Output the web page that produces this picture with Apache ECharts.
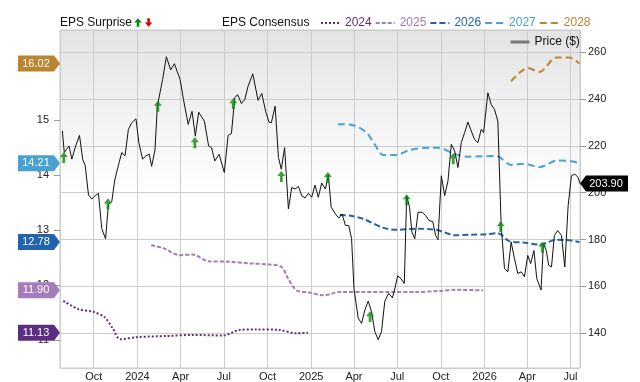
<!DOCTYPE html>
<html>
<head>
<meta charset="utf-8">
<script src="https://cdn.jsdelivr.net/npm/echarts@6/dist/echarts.min.js"></script>
<style>
  html, body { margin: 0; padding: 0; background: #fff; }
  #chart { width: 640px; height: 382px; }
</style>
</head>
<body>
<div id="chart"></div>
<script>
const FONT = 'Liberation Sans, Arial, sans-serif'

const monthLabels = ['Jan', 'Feb', 'Mar', 'Apr', 'May', 'Jun', 'Jul', 'Aug', 'Sep', 'Oct', 'Nov', 'Dec']
const xMin = '2023-07-22'
const xMax = '2026-07-21'

// share price ($)
const priceDates = [
  '2023-07-27','2023-07-31','2023-08-05','2023-08-10','2023-08-16','2023-08-24','2023-09-01','2023-09-08','2023-09-13','2023-09-20',
  '2023-09-27','2023-10-04','2023-10-11','2023-10-18','2023-10-26','2023-11-01','2023-11-08','2023-11-14','2023-11-22','2023-11-29',
  '2023-12-06','2023-12-13','2023-12-20','2023-12-29','2024-01-04','2024-01-12','2024-01-19','2024-01-26','2024-01-31','2024-02-07',
  '2024-02-12','2024-02-23','2024-03-02','2024-03-11','2024-03-19','2024-03-31','2024-04-07','2024-04-17','2024-04-25','2024-05-02',
  '2024-05-09','2024-05-21','2024-05-30','2024-06-05','2024-06-12','2024-06-21','2024-07-02','2024-07-10','2024-07-17','2024-07-24',
  '2024-07-30','2024-08-07','2024-08-14','2024-08-21','2024-08-31','2024-09-11','2024-09-19','2024-09-27','2024-10-04','2024-10-09',
  '2024-10-17','2024-10-24','2024-10-30','2024-11-06','2024-11-14','2024-11-21','2024-11-28','2024-12-05','2024-12-12','2024-12-19',
  '2024-12-26','2025-01-02','2025-01-09','2025-01-16','2025-01-23','2025-01-31','2025-02-06','2025-02-12','2025-02-21','2025-02-28',
  '2025-03-07','2025-03-14','2025-03-21','2025-03-27','2025-04-01','2025-04-10','2025-04-17','2025-04-24','2025-05-01','2025-05-08',
  '2025-05-15','2025-05-22','2025-05-29','2025-06-05','2025-06-13','2025-06-21','2025-06-27','2025-07-02','2025-07-09','2025-07-16',
  '2025-07-21','2025-07-27','2025-08-01','2025-08-07','2025-08-14','2025-08-23','2025-08-30','2025-09-06','2025-09-14','2025-09-20',
  '2025-09-25','2025-10-02','2025-10-09','2025-10-16','2025-10-23','2025-10-30','2025-11-06','2025-11-13','2025-11-20','2025-11-27',
  '2025-12-04','2025-12-11','2025-12-18','2025-12-25','2025-12-30','2026-01-08','2026-01-15','2026-01-22','2026-01-29','2026-02-05',
  '2026-02-12','2026-02-19','2026-02-26','2026-03-05','2026-03-12','2026-03-19','2026-03-26','2026-04-02','2026-04-08','2026-04-15',
  '2026-04-21','2026-04-30','2026-05-05','2026-05-11','2026-05-16','2026-05-22','2026-05-28','2026-06-04','2026-06-12','2026-06-19',
  '2026-06-26','2026-07-03','2026-07-10','2026-07-17','2026-07-21'
]
const priceValues = [
  226.3,217.1,218.5,219.9,214.3,219.9,224.4,214.0,211.7,199.0,
  197.3,198.7,199.7,184.6,180.3,195.2,196.1,205.0,211.7,217.1,
  215.7,227.0,229.8,231.5,221.3,214.3,215.7,216.4,211.2,218.2,
  236.9,248.2,258.0,252.4,255.0,248.2,239.7,229.1,234.7,224.1,
  234.3,230.5,219.9,219.2,213.5,216.4,208.6,224.4,225.2,240.5,
  241.8,238.0,239.7,245.4,250.7,239.4,242.3,234.7,230.1,229.8,
  236.9,215.0,210.0,219.2,193.0,202.2,201.5,202.7,198.7,197.7,
  199.7,198.0,203.2,198.0,204.1,201.5,207.7,193.8,190.9,189.1,
  190.9,186.0,186.0,180.3,159.1,146.4,144.2,149.9,153.7,149.2,
  140.7,137.2,140.7,153.7,157.0,155.1,159.8,164.5,163.3,161.2,
  198.7,193.8,183.2,180.3,191.6,191.6,190.2,188.1,187.6,181.7,
  179.9,207.2,198.7,205.0,220.6,217.8,210.7,221.3,225.6,230.1,
  226.3,222.7,221.3,227.0,225.6,242.6,237.6,235.5,230.5,186.0,
  167.6,166.2,178.9,171.8,165.5,166.2,164.1,173.2,169.7,175.3,
  163.3,158.4,178.2,175.3,169.0,168.3,181.7,183.8,181.7,168.3,
  194.4,207.2,207.9,206.5,203.9
]

// EPS surprise markers (all beats)
const surpriseDates = ['2023-07-30','2023-10-31','2024-02-13','2024-05-01','2024-07-21','2024-10-30','2025-02-05','2025-05-05','2025-07-21','2025-10-27','2026-02-04','2026-05-03']
const surpriseValues = [215.0,195.2,236.9,221.3,238.0,206.9,206.5,147.1,197.0,214.5,185.5,176.7]

// EPS consensus by fiscal year
const eps2024Dates = ['2023-07-29','2023-08-29','2023-09-30','2023-10-24','2023-11-10','2023-11-26','2023-12-30','2024-03-02','2024-04-27','2024-06-29','2024-08-03','2024-09-07','2024-10-26','2024-12-01','2024-12-25']
const eps2024 = [11.71,11.56,11.51,11.41,11.21,11.01,11.05,11.07,11.09,11.08,11.18,11.19,11.18,11.12,11.13]

const eps2025Dates = ['2024-01-30','2024-02-24','2024-03-30','2024-04-27','2024-05-29','2024-07-13','2024-08-24','2024-10-05','2024-10-30','2024-11-13','2024-12-01','2024-12-28','2025-01-27','2025-03-02','2025-04-20','2025-06-29','2025-08-10','2025-09-28','2025-11-02','2025-12-29']
const eps2025 = [12.72,12.67,12.54,12.55,12.43,12.42,12.39,12.37,12.33,12.12,11.90,11.86,11.81,11.87,11.87,11.87,11.87,11.89,11.91,11.90]

const eps2026Dates = ['2025-03-02','2025-03-23','2025-04-20','2025-06-01','2025-06-29','2025-08-10','2025-09-21','2025-10-09','2025-10-30','2025-12-01','2026-01-05','2026-01-29','2026-02-23','2026-03-23','2026-04-27','2026-06-01','2026-06-29','2026-07-20']
const eps2026 = [13.27,13.26,13.20,13.04,13.00,13.02,13.00,12.95,12.90,12.91,12.92,12.94,12.79,12.77,12.73,12.82,12.81,12.78]

const eps2027Dates = ['2025-02-26','2025-03-30','2025-04-27','2025-05-15','2025-06-01','2025-06-29','2025-07-27','2025-09-03','2025-09-28','2025-10-26','2025-11-26','2026-01-26','2026-02-26','2026-03-26','2026-04-27','2026-06-03','2026-06-29','2026-07-20']
const eps2027 = [14.92,14.90,14.77,14.55,14.36,14.36,14.45,14.49,14.49,14.39,14.33,14.34,14.18,14.20,14.14,14.26,14.25,14.21]

const eps2028Dates = ['2026-02-26','2026-04-02','2026-04-27','2026-06-01','2026-06-29','2026-07-20']
const eps2028 = [15.70,15.94,15.87,16.13,16.13,16.02]

const consensus = [
  { name: '2024', dates: eps2024Dates, values: eps2024, color: '#5c2d82', dash: [2, 2] },
  { name: '2025', dates: eps2025Dates, values: eps2025, color: '#a57cba', dash: [4, 2] },
  { name: '2026', dates: eps2026Dates, values: eps2026, color: '#2163ae', dash: [6, 3] },
  { name: '2027', dates: eps2027Dates, values: eps2027, color: '#47a2d2', dash: [7, 4] },
  { name: '2028', dates: eps2028Dates, values: eps2028, color: '#b98531', dash: [7, 4] },
]

const zip = (xs, ys) => xs.map((x, i) => [x, ys[i]])

const chart = echarts.init(document.getElementById('chart'))

const consensusSeries = consensus.map(c => ({
  name: c.name,
  type: 'line',
  yAxisIndex: 0,
  data: zip(c.dates, c.values),
  smooth: 0.3,
  symbol: 'none',
  lineStyle: { color: c.color, width: 2, type: c.dash },
  itemStyle: { color: c.color },
  z: 3,
  markPoint: {
    silent: true,
    symbol: 'path://M0,0 L36,0 L42,8 L36,16 L0,16 Z',
    symbolSize: [42, 16],
    symbolOffset: [-21, 0],
    itemStyle: { color: c.color },
    label: {
      show: true, position: 'inside', offset: [-3, 0],
      color: '#fff', fontSize: 11, fontFamily: FONT,
      formatter: p => p.value.toFixed(2),
    },
    data: [{ coord: [xMin, c.values[c.values.length - 1]], value: c.values[c.values.length - 1] }],
  },
}))

const lastPrice = priceValues[priceValues.length - 1]

chart.setOption({
  animation: false,
  textStyle: { fontFamily: FONT },
  grid: {
    left: 60, right: 60, top: 30, bottom: 12,
    show: true,
    borderColor: '#c8c8c8',
    borderWidth: 1,
    backgroundColor: new echarts.graphic.LinearGradient(0, 0, 0, 1, [
      { offset: 0, color: '#e3e3e3' },
      { offset: 0.48, color: '#ffffff' },
      { offset: 1, color: '#ffffff' },
    ]),
  },
  legend: [
    {
      left: 320, top: 17, padding: 0,
      itemWidth: 19, itemHeight: 10, itemGap: 3,
      selectedMode: false,
      itemStyle: { opacity: 0 },
      textStyle: { fontSize: 12, fontFamily: FONT },
      data: consensus.map(c => ({ name: c.name, textStyle: { color: c.color } })),
    },
    {
      left: 509, top: 36, padding: 0,
      itemWidth: 19, itemHeight: 10,
      selectedMode: false,
      itemStyle: { opacity: 0 },
      textStyle: { fontSize: 12, color: '#111', fontFamily: FONT },
      data: [{ name: 'Price ($)', lineStyle: { color: '#777', width: 3 } }],
    },
  ],
  graphic: [
    { type: 'text', x: 60, y: 23, style: { text: 'EPS Surprise', fill: '#111', fontSize: 12, fontFamily: FONT, verticalAlign: 'middle' } },
    { type: 'polygon', shape: { points: [[138, 18.3], [141.8, 22.6], [139.3, 22.6], [139.3, 26.7], [136.7, 26.7], [136.7, 22.6], [134.2, 22.6]] }, style: { fill: '#0a8a0a' } },
    { type: 'polygon', shape: { points: [[148.6, 26.7], [152.4, 22.4], [149.9, 22.4], [149.9, 18.3], [147.3, 18.3], [147.3, 22.4], [144.8, 22.4]] }, style: { fill: '#e60000' } },
    { type: 'text', x: 222, y: 23, style: { text: 'EPS Consensus', fill: '#111', fontSize: 12, fontFamily: FONT, verticalAlign: 'middle' } },
  ],
  xAxis: {
    type: 'time',
    min: xMin,
    max: xMax,
    splitNumber: 12,
    axisLine: { show: false },
    axisTick: { show: false },
    splitLine: { show: true, lineStyle: { color: '#cccccc', width: 1 } },
    axisLabel: {
      fontSize: 11, color: '#222', margin: 3, fontFamily: FONT,
      showMinLabel: false, showMaxLabel: false,
      formatter: v => {
        const d = new Date(v)
        return d.getMonth() === 0 ? String(d.getFullYear()) : monthLabels[d.getMonth()]
      },
    },
  },
  yAxis: [
    {
      type: 'value',
      position: 'left',
      min: 10.489,
      max: 16.631,
      splitNumber: 6,
      splitLine: { show: false },
      axisLine: { show: false },
      axisTick: { show: true, length: 6, lineStyle: { color: '#999' } },
      axisLabel: { fontSize: 11, color: '#222', margin: 11, fontFamily: FONT, showMinLabel: false, showMaxLabel: false },
    },
    {
      type: 'value',
      position: 'right',
      min: 125.15,
      max: 269.4,
      splitNumber: 7,
      splitLine: { show: true, lineStyle: { color: '#cccccc', width: 1 } },
      axisLine: { show: false },
      axisTick: { show: true, length: 6, lineStyle: { color: '#999' } },
      axisLabel: { fontSize: 11, color: '#222', margin: 8, fontFamily: FONT, showMinLabel: false, showMaxLabel: false },
    },
  ],
  series: [
    ...consensusSeries,
    {
      name: 'Price ($)',
      type: 'line',
      yAxisIndex: 1,
      data: zip(priceDates, priceValues),
      symbol: 'none',
      lineStyle: { color: '#111', width: 1 },
      itemStyle: { color: '#111' },
      z: 4,
      markPoint: {
        silent: true,
        symbol: 'path://M0,8 L6,0 L48,0 L48,16 L6,16 Z',
        symbolSize: [48, 16],
        symbolOffset: [24, 0],
        itemStyle: { color: '#000', opacity: 1 },
        label: {
          show: true, position: 'inside', offset: [2, 0],
          color: '#fff', fontSize: 11, fontFamily: FONT,
          formatter: p => p.value.toFixed(2),
        },
        data: [{ coord: [priceDates[priceDates.length - 1], lastPrice], value: lastPrice }],
      },
    },
    {
      name: 'EPS Surprise',
      type: 'scatter',
      yAxisIndex: 1,
      data: zip(surpriseDates, surpriseValues),
      symbol: 'path://M4,0 L8,4.6 L5.4,4.6 L5.4,10 L2.6,10 L2.6,4.6 L0,4.6 Z',
      symbolSize: [8, 11],
      itemStyle: { color: '#0a8a0a' },
      z: 5,
    },
  ],
})
</script>
</body>
</html>
